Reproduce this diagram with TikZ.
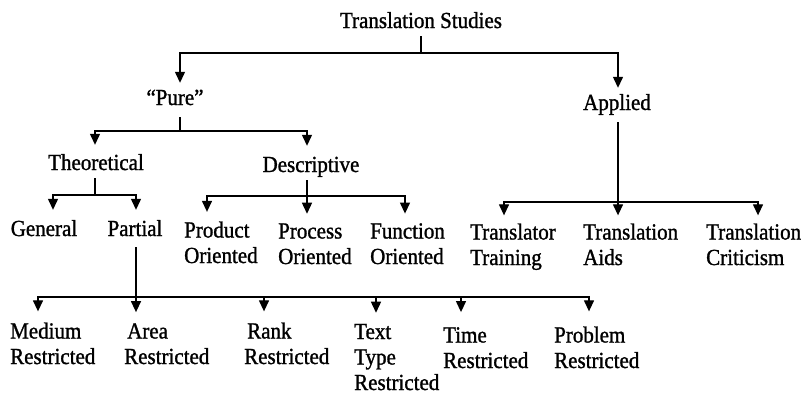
\documentclass[tikz,border=0pt]{standalone}
\usepackage{fontspec}
\setmainfont{Liberation Serif}[FakeBold=1.2,FakeStretch=0.913]
\usetikzlibrary{arrows.meta}
\begin{document}
\begin{tikzpicture}[x=1pt,y=-1pt,
  lbl/.style={inner sep=0pt, font=\fontsize{23}{25.5}\selectfont, text height=15pt, text depth=0pt, anchor=base},
  ml/.style={inner sep=0pt, font=\fontsize{23}{25.5}\selectfont, align=left, anchor=base west},
  ln/.style={line width=1.3pt},
  arr/.style={ln, -{Triangle[width=10pt,length=11pt]}},
]
\useasboundingbox (0,0) rectangle (805,397);

% labels (multi-line nodes placed at the baseline of their last line)
\node[lbl] (ts) at (421,28) {Translation Studies};
\node[lbl] (pure) at (175,105) {“Pure”};
\node[lbl] (applied) at (617,110) {Applied};
\node[lbl] (theo) at (96,170) {Theoretical};
\node[lbl] (desc) at (311,172) {Descriptive};
\node[lbl] (gen) at (44,236) {General};
\node[lbl] (part) at (135,236) {Partial};
\node[ml] (prod) at (184,263) {Product\\Oriented};
\node[ml] (proc) at (278,264) {Process\\Oriented};
\node[ml] (func) at (370,264) {Function\\Oriented};
\node[ml] (trt) at (470,265) {Translator\\Training};
\node[ml] (aids) at (583,265) {Translation\\Aids};
\node[ml] (crit) at (706,265) {Translation\\Criticism};
\node[ml] (med) at (10,364) {Medium\\Restricted};
\node[ml] (area) at (124,364) {\hspace*{3pt}Area\\Restricted};
\node[ml] (rank) at (244,364) {\hspace*{3pt}Rank\\Restricted};
\node[ml] (text) at (354,390) {Text\\Type\\Restricted};
\node[ml] (time) at (443,368) {Time\\Restricted};
\node[ml] (prob) at (554,368) {Problem\\Restricted};

% row A
\coordinate (a0) at (421,53);
\coordinate (aL) at (180,53);
\coordinate (aR) at (618,53);
\draw[ln, shorten <=8pt] (ts.south) -- (a0);
\draw[arr, shorten >=7pt] (a0) -- (aL) -- (aL |- pure.north);
\draw[arr, shorten >=7pt] (a0) -- (aR) -- (aR |- applied.north);

% row B
\coordinate (b0) at (180,131);
\coordinate (bL) at (95,131);
\coordinate (bR) at (307,131);
\draw[ln, shorten >=12pt] (b0) -- (b0 |- pure.south);
\draw[arr, shorten >=10pt] (b0) -- (bL) -- (bL |- theo.north);
\draw[arr, shorten >=11pt] (b0) -- (bR) -- (bR |- desc.north);

% row C
\coordinate (c0) at (95,195);
\coordinate (cL) at (53,195);
\coordinate (cR) at (136,195);
\draw[ln, shorten >=8pt] (c0) -- (c0 |- theo.south);
\draw[arr, shorten >=11pt] (c0) -- (cL) -- (cL |- gen.north);
\draw[arr, shorten >=11pt] (c0) -- (cR) -- (cR |- part.north);

% row D
\coordinate (d0) at (307,196);
\coordinate (dL) at (207,196);
\coordinate (dR) at (405,196);
\draw[ln, shorten >=8pt] (d0) -- (d0 |- desc.south);
\draw[arr, shorten >=9.5pt] (d0) -- (dL) -- (dL |- prod.north);
\draw[arr, shorten >=9.5pt] (d0) -- (d0 |- proc.north);
\draw[arr, shorten >=9.5pt] (d0) -- (dR) -- (dR |- func.north);

% row E
\coordinate (e0) at (618,202);
\coordinate (eL) at (504,202);
\coordinate (eR) at (758,202);
\draw[ln, shorten >=12pt] (e0) -- (e0 |- applied.south);
\draw[arr, shorten >=8pt] (e0) -- (eL) -- (eL |- trt.north);
\draw[arr, shorten >=8pt] (e0) -- (e0 |- aids.north);
\draw[arr, shorten >=8pt] (e0) -- (eR) -- (eR |- crit.north);

% row F
\coordinate (f0) at (136,297);
\coordinate (fL) at (38,297);
\coordinate (f3) at (264,297);
\coordinate (f4) at (376,297);
\coordinate (f5) at (461,297);
\coordinate (fR) at (589,297);
\draw[ln, shorten >=11pt] (f0) -- (f0 |- part.south);
\draw[arr, shorten >=11pt] (f0) -- (fL) -- (fL |- med.north);
\draw[arr, shorten >=11pt] (f0) -- (f0 |- area.north);
\draw[arr, shorten >=11pt] (f3) -- (f3 |- rank.north);
\draw[arr, shorten >=11pt] (f4) -- (f4 |- text.north);
\draw[arr, shorten >=15pt] (f5) -- (f5 |- time.north);
\draw[arr, shorten >=15pt] (f0) -- (fR) -- (fR |- prob.north);
\end{tikzpicture}
\end{document}
